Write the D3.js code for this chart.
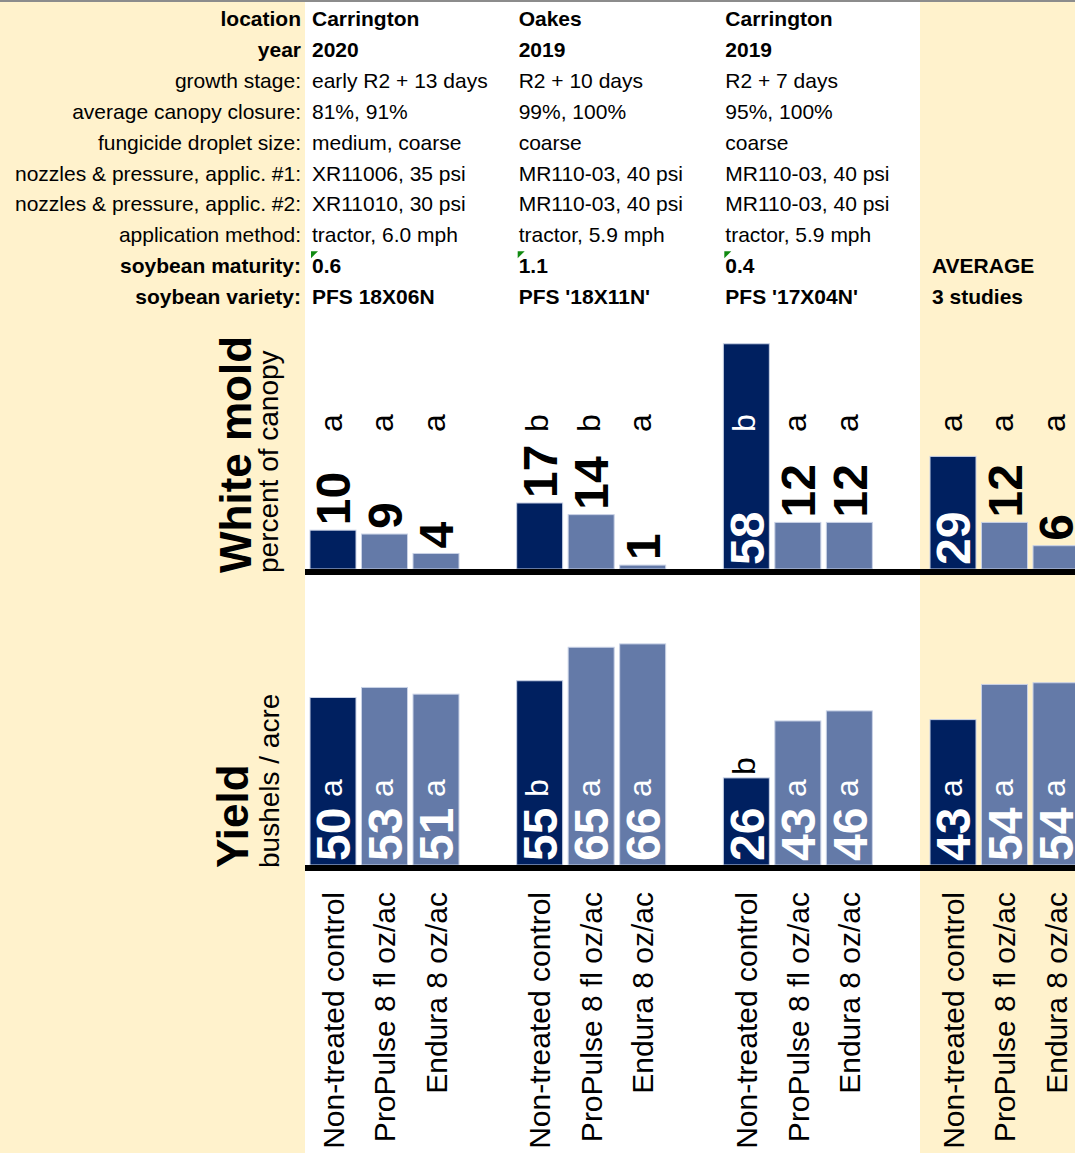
<!DOCTYPE html>
<html>
<head>
<meta charset="utf-8">
<script src="https://cdn.jsdelivr.net/npm/d3@7"></script>
<style>
  body { margin: 0; background: #fff; }
  svg { display: block; font-family: Arial, "Liberation Sans", sans-serif; }
</style>
</head>
<body>
<div id="chart"></div>
<script>
// ---- data ----
const studies = ['Carrington 2020', 'Oakes 2019', 'Carrington 2019', 'Average'];
const treatments = ['Non-treated control', 'ProPulse 8 fl oz/ac', 'Endura 8 oz/ac'];

const rowLabels = ['location', 'year', 'growth stage:', 'average canopy closure:',
  'fungicide droplet size:', 'nozzles & pressure, applic. #1:', 'nozzles & pressure, applic. #2:',
  'application method:', 'soybean maturity:', 'soybean variety:'];
const siteNames = ['Carrington', 'Oakes', 'Carrington', ''];
const siteYears = ['2020', '2019', '2019', ''];
const growthStage = ['early R2 + 13 days', 'R2 + 10 days', 'R2 + 7 days', ''];
const canopyClosure = ['81%, 91%', '99%, 100%', '95%, 100%', ''];
const dropletSize = ['medium, coarse', 'coarse', 'coarse', ''];
const nozzles1 = ['XR11006, 35 psi', 'MR110-03, 40 psi', 'MR110-03, 40 psi', ''];
const nozzles2 = ['XR11010, 30 psi', 'MR110-03, 40 psi', 'MR110-03, 40 psi', ''];
const applicMethod = ['tractor, 6.0 mph', 'tractor, 5.9 mph', 'tractor, 5.9 mph', ''];
const maturity = ['0.6', '1.1', '0.4', 'AVERAGE'];
const variety = ['PFS 18X06N', "PFS '18X11N'", "PFS '17X04N'", '3 studies'];

const whiteMold = [[10, 9, 4], [17, 14, 1], [58, 12, 12], [29, 12, 6]];
const whiteMoldLetters = [['a', 'a', 'a'], ['b', 'b', 'a'], ['b', 'a', 'a'], ['a', 'a', 'a']];
const yieldBu = [[50, 53, 51], [55, 65, 66], [26, 43, 46], [43.4, 53.9, 54.4]];
const yieldLetters = [['a', 'a', 'a'], ['b', 'a', 'a'], ['b', 'a', 'a'], ['a', 'a', 'a']];

// ---- layout ----
const w = 1075, h = 1153;
const beige = '#FFF2CC';
const dark = '#002060', light = '#647AA8';
const fmt = d3.format('.0f');

const svg = d3.select('#chart').append('svg')
  .attr('width', w).attr('height', h);

const x0 = d3.scaleBand().domain(studies).range([310, 310 + 4 * 206.67]).padding(0);
const x1 = d3.scaleBand().domain(treatments).range([0, 149]).paddingInner(0.107).paddingOuter(0);

// backgrounds
svg.append('rect').attr('x', 0).attr('y', 0).attr('width', 305).attr('height', h).attr('fill', beige);
svg.append('rect').attr('x', x0('Average') - 10).attr('y', 0)
  .attr('width', w - x0('Average') + 10).attr('height', h).attr('fill', beige);
svg.append('rect').attr('x', 0).attr('y', 0).attr('width', w).attr('height', 2).attr('fill', '#8c8c8c');

// ---- info table ----
const tableRows = [siteNames, siteYears, growthStage, canopyClosure, dropletSize,
  nozzles1, nozzles2, applicMethod, maturity, variety];
const boldRows = new Set([0, 1, 8, 9]);
const rowY = i => 26 + i * 30.9;

svg.selectAll('text.rowlabel')
  .data(rowLabels)
  .enter().append('text')
  .attr('class', 'rowlabel')
  .attr('x', 301).attr('y', (d, i) => rowY(i))
  .attr('text-anchor', 'end')
  .attr('font-size', 21)
  .attr('font-weight', (d, i) => boldRows.has(i) ? 'bold' : 'normal')
  .text(d => d);

tableRows.forEach((row, r) => {
  svg.selectAll('text.cell' + r)
    .data(row)
    .enter().append('text')
    .attr('class', 'cell' + r)
    .attr('x', (d, i) => x0(studies[i]) + 2)
    .attr('y', rowY(r))
    .attr('font-size', 21)
    .attr('font-weight', boldRows.has(r) ? 'bold' : 'normal')
    .text(d => d);
});

// excel comment markers on maturity cells
svg.selectAll('path.marker')
  .data(studies.slice(0, 3))
  .enter().append('path')
  .attr('d', d => {
    const x = x0(d) + 1, y = rowY(8) - 22;
    return `M${x},${y}L${x + 7},${y}L${x},${y + 7}Z`;
  })
  .attr('fill', '#108a10');

// ---- bar panels ----
const flat = (vals, lets) => vals.flatMap((g, gi) => g.map((v, ti) => ({
  study: studies[gi], treat: treatments[ti], ti, value: v, letter: lets[gi][ti]
})));

const yMold = d3.scaleLinear().domain([0, 60]).range([569, 336]);
const yYield = d3.scaleLinear().domain([0, 70]).range([865, 630.5]);
const cx = d => x0(d.study) + x1(d.treat) + x1.bandwidth() / 2;

function panel(data, y, opts) {
  const g = svg.append('g');
  g.selectAll('rect')
    .data(data)
    .enter().append('rect')
    .attr('x', d => x0(d.study) + x1(d.treat))
    .attr('y', d => y(d.value))
    .attr('width', x1.bandwidth())
    .attr('height', d => y(0) - y(d.value))
    .attr('fill', d => d.ti === 0 ? dark : light)
    .attr('stroke', '#c9d2e6')
    .attr('stroke-width', 1);

  // value labels
  g.selectAll('text.val')
    .data(data)
    .enter().append('text')
    .attr('class', 'val')
    .attr('transform', d => {
      const inside = opts.inside(d);
      const yy = inside ? y(0) - 4 : y(d.value) - 5;
      return `translate(${cx(d)},${yy}) rotate(-90)`;
    })
    .attr('dy', '0.358em')
    .attr('font-size', 48)
    .attr('font-weight', 'bold')
    .attr('fill', d => opts.inside(d) ? '#fff' : '#000')
    .text(d => fmt(d.value));

  // significance letters
  const lifted = d => opts.lift && y(d.value) > opts.letterY - 22;
  g.selectAll('text.let')
    .data(data)
    .enter().append('text')
    .attr('class', 'let')
    .attr('transform', d => {
      const yy = lifted(d) ? y(d.value) - 3 : opts.letterY;
      return `translate(${cx(d)},${yy}) rotate(-90)`;
    })
    .attr('dy', '0.27em')
    .attr('font-size', 32)
    .attr('fill', d => {
      if (lifted(d)) return '#000';
      return y(d.value) < opts.letterY - 18 ? '#fff' : '#000';
    })
    .text(d => d.letter);

  // baseline
  g.append('line')
    .attr('x1', 305).attr('x2', w)
    .attr('y1', y(0) + 3).attr('y2', y(0) + 3)
    .attr('stroke', '#000').attr('stroke-width', 6);
}

panel(flat(whiteMold, whiteMoldLetters), yMold, {
  inside: d => d.value >= 25,
  letterY: 432,
  lift: false
});
panel(flat(yieldBu, yieldLetters), yYield, {
  inside: d => true,
  letterY: 797,
  lift: true
});

// panel titles
function title(big, small, yStart, xBig, xSmall) {
  svg.append('text')
    .attr('transform', `translate(${xBig},${yStart}) rotate(-90)`)
    .attr('font-size', 44).attr('font-weight', 'bold')
    .text(big);
  svg.append('text')
    .attr('transform', `translate(${xSmall},${yStart}) rotate(-90)`)
    .attr('font-size', 28)
    .text(small);
}
title('White mold', 'percent of canopy', 573, 251, 278);
title('Yield', 'bushels / acre', 868, 248, 279);

// category labels
svg.selectAll('text.cat')
  .data(flat(yieldBu, yieldLetters))
  .enter().append('text')
  .attr('class', 'cat')
  .attr('transform', d => `translate(${cx(d)},892) rotate(-90)`)
  .attr('text-anchor', 'end')
  .attr('dy', '0.358em')
  .attr('font-size', 30)
  .text(d => d.treat);
</script>
</body>
</html>
